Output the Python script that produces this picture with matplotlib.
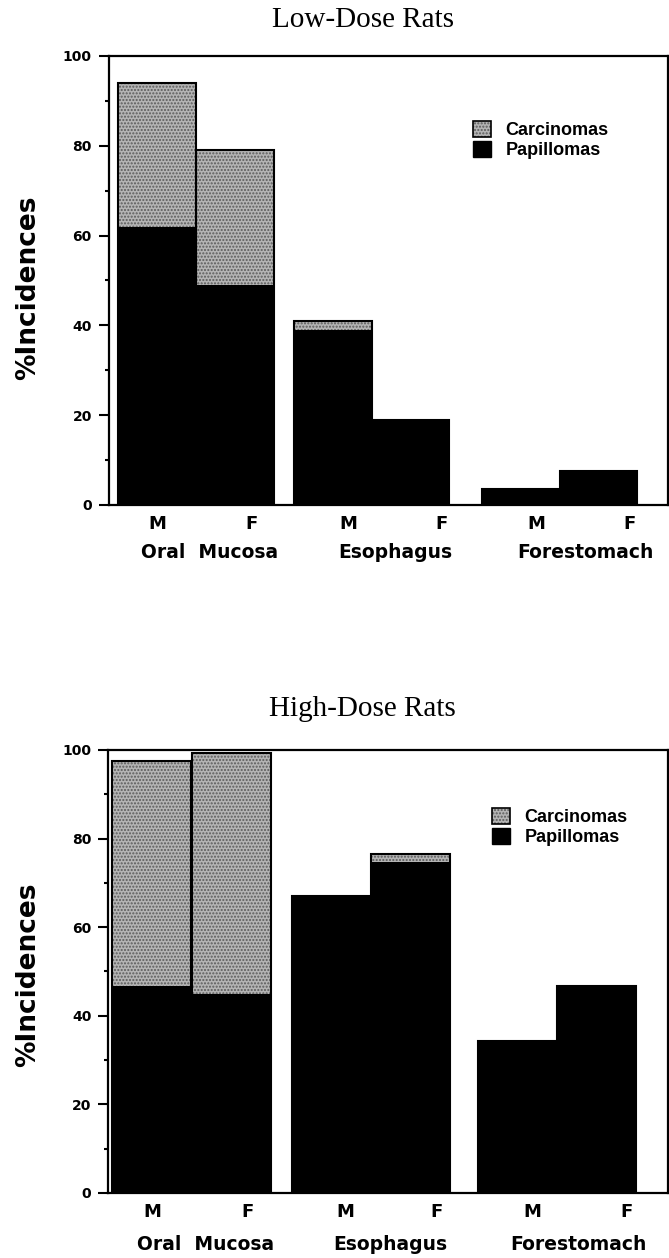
import numpy as np
import matplotlib
matplotlib.use('Agg')
import matplotlib.pyplot as plt
from matplotlib.patches import Patch

# data (% incidence)
sex_labels = ['M', 'F', 'M', 'F', 'M', 'F']
sites = ['Oral  Mucosa', 'Esophagus', 'Forestomach']

low_papillomas = [62, 49, 39, 19, 3.5, 7.6]
low_carcinomas = [32, 30, 2, 0, 0, 0]

high_papillomas = [46.7, 45, 67, 74.7, 34.4, 46.7]
high_carcinomas = [50.8, 54.3, 0, 1.9, 0, 0]

# layout (bar width = 1 unit)
low_bar_x = [0.626, 1.63, 2.897, 3.897, 5.32, 6.32]
low_tick_x = [0.626, 1.85, 3.10, 4.30, 5.52, 6.72]
low_site_x = [1.30, 3.70, 6.15]
high_bar_x = [0.55, 1.56, 2.83, 3.83, 5.19, 6.18]
high_tick_x = [0.557, 1.77, 3.0, 4.16, 5.37, 6.57]
high_site_x = [1.24, 3.58, 5.96]

SANS = 'DejaVu Sans'
GRAY = '#b4b4b4'
DOTS = '#5a5a5a'
plt.rcParams['hatch.linewidth'] = 1.0

fig = plt.figure(figsize=(6.69, 12.58), dpi=100)


def panel(rect, title, title_y, pap, carc, bar_x, tick_x, site_x, xmax,
          site_off, leg_xy, ylab_y):
    ax = fig.add_axes(rect)
    pap = np.array(pap)
    carc = np.array(carc)
    ax.bar(bar_x, pap, width=1.0, color='black', edgecolor='black', lw=1.2)
    ax.bar(bar_x, carc, width=1.0, bottom=pap, color=GRAY, hatch='.....',
           edgecolor=DOTS, lw=0)
    ax.bar(bar_x, pap + carc, width=1.0, fill=False, edgecolor='black', lw=1.5)

    ax.set_xlim(0, xmax)
    ax.set_ylim(0, 100)
    ax.set_yticks(range(0, 101, 20))
    ax.set_yticks(range(10, 100, 20), minor=True)
    ax.tick_params(axis='y', which='major', direction='out', length=7, width=1.5,
                   labelsize=10, pad=5)
    ax.tick_params(axis='y', which='minor', direction='out', length=3, width=1.5)
    for lab in ax.get_yticklabels():
        lab.set_fontweight('bold')
        lab.set_family(SANS)
    ax.set_xticks(tick_x)
    ax.set_xticklabels(sex_labels, fontsize=13, fontweight='bold', family=SANS)
    ax.tick_params(axis='x', length=0, pad=7)
    for s in ax.spines.values():
        s.set_linewidth(1.6)

    for name, x in zip(sites, site_x):
        ax.text(x, site_off, name, transform=ax.get_xaxis_transform(),
                ha='center', va='center', fontsize=13.5, fontweight='bold',
                family=SANS)

    handles = [Patch(facecolor=GRAY, hatch='.....', edgecolor=DOTS, lw=0),
               Patch(facecolor='black', edgecolor='black')]
    leg = ax.legend(handles, ['Carcinomas', 'Papillomas'], loc='upper left',
                    bbox_to_anchor=leg_xy, frameon=False, borderpad=0,
                    handlelength=1.0, handleheight=1.0, handletextpad=0.8,
                    labelspacing=0.1, prop={'family': 'Liberation Sans',
                                            'weight': 'bold', 'size': 13})
    # black outline round the stippled legend square
    box = leg.legend_handles[0]
    ax.add_artist(leg)
    outline = Patch(facecolor='none', edgecolor='black', lw=1.2)
    leg2 = ax.legend([outline, Patch(facecolor='none', edgecolor='none')],
                     ['Carcinomas', 'Papillomas'], loc='upper left',
                     bbox_to_anchor=leg_xy, frameon=False, borderpad=0,
                     handlelength=1.0, handleheight=1.0, handletextpad=0.8,
                     labelspacing=0.1, prop={'family': 'Liberation Sans',
                                             'weight': 'bold', 'size': 13})
    for t in leg2.get_texts():
        t.set_alpha(0)

    fig.text(0.542, title_y, title, ha='center', va='center',
             family='Liberation Serif', fontsize=21)
    fig.text(28 / 669, ylab_y, '%Incidences', rotation=90, ha='center',
             va='center', fontsize=19, fontweight='bold', family=SANS)
    return ax


panel([0.1622, 0.5986, 0.8363, 0.3569], 'Low-Dose Rats', 1 - 20 / 1258,
      low_papillomas, low_carcinomas, low_bar_x, low_tick_x, low_site_x,
      7.22, -0.105, (0.635, 0.875), 1 - 288 / 1258)

panel([0.1614, 0.0517, 0.8370, 0.3522], 'High-Dose Rats', 1 - 709 / 1258,
      high_papillomas, high_carcinomas, high_bar_x, high_tick_x, high_site_x,
      7.09, -0.117, (0.67, 0.89), 1 - 975 / 1258)

fig.savefig('out.png', dpi=100)
